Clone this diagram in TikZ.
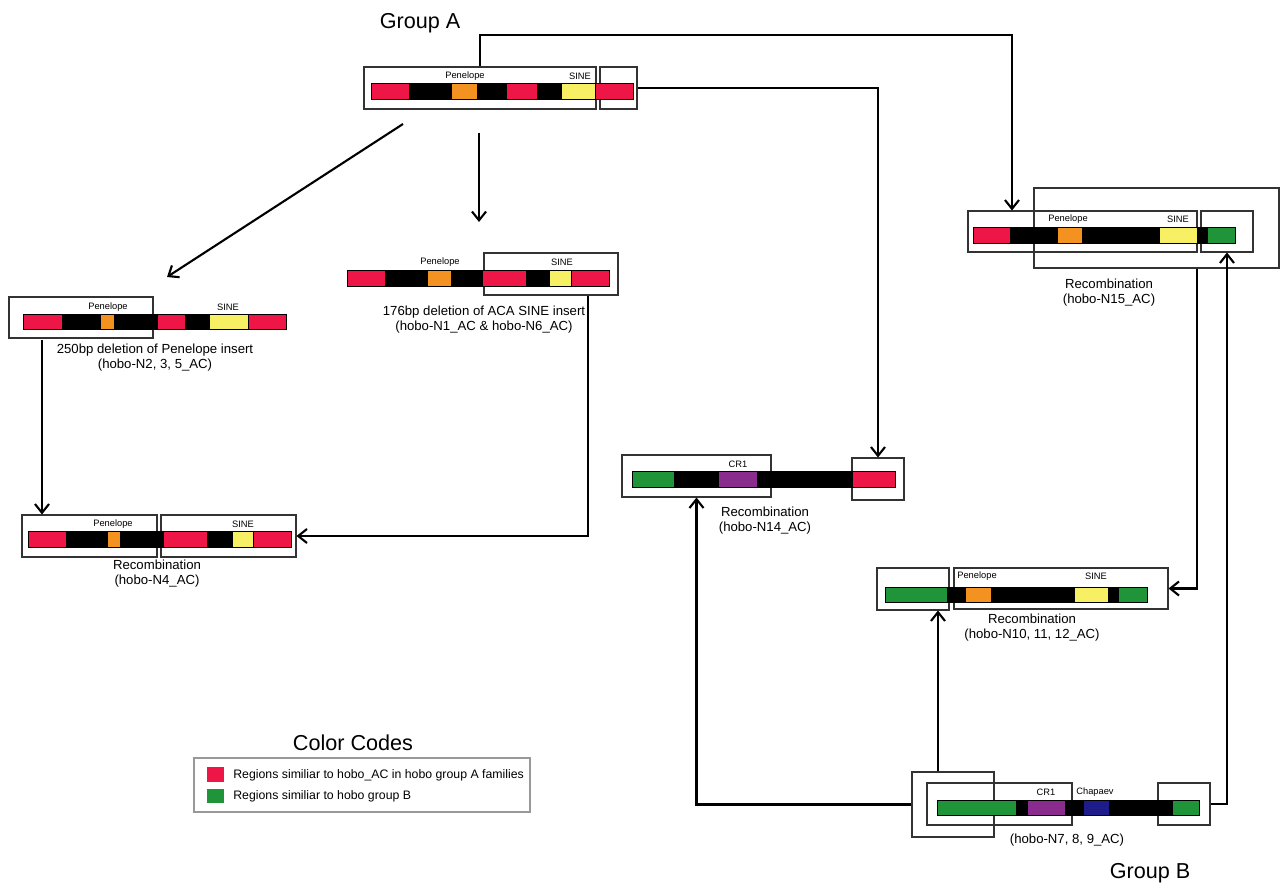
\documentclass[tikz,border=0pt]{standalone}
\usepackage{fontspec}
\setmainfont{Liberation Sans}
\usepackage{tikz}
\usetikzlibrary{fit}
\usetikzlibrary{arrows.meta}

\definecolor{hobored}{HTML}{EE1547}
\definecolor{hoboorange}{HTML}{F39221}
\definecolor{hoboyellow}{HTML}{F7F064}
\definecolor{hobogreen}{HTML}{1F9438}
\definecolor{hobopurple}{HTML}{8A2B8E}
\definecolor{hoboblue}{HTML}{1E1B8A}

\begin{document}
\begin{tikzpicture}[x=0.02cm, y=-0.02cm,
		frame/.style={draw=black!80, line width=0.6pt, inner sep=0pt},
		link/.style={line width=1.2pt, -{Straight Barb[length=5pt, width=8pt]}},
		tag/.style={font=\fontsize{5.3}{6}\selectfont, inner sep=0pt},
		caption/.style={font=\fontsize{7.5}{8.6}\selectfont, align=center, inner sep=0pt},
		title/.style={font=\fontsize{12.3}{14}\selectfont, inner sep=0pt}]
			\useasboundingbox (0,0) rectangle (1280,885);

			% frames
			\node[frame, fit={(364,67) (596,109)}] (groupA) {};
			\node[frame, fit={(600,67) (637,109)}] (groupAend) {};
			\node[frame, fit={(9,297) (153,338)}] (n2box) {};
			\node[frame, fit={(484,253) (618,295)}] (n1box) {};
			\node[frame, fit={(22,515) (157,557)}] (n4left) {};
			\node[frame, fit={(161,515) (296,557)}] (n4right) {};
			\node[frame, fit={(622,455) (771,497)}] (n14left) {};
			\node[frame, fit={(852,458) (904,500)}] (n14right) {};
			\node[frame, fit={(1034,188) (1279,268)}] (n15big) {};
			\node[frame, fit={(968,211) (1197,252)}] (n15left) {};
			\node[frame, fit={(1201,211) (1253,252)}] (n15right) {};
			\node[frame, fit={(877,568) (949,610)}] (n10left) {};
			\node[frame, fit={(954,568) (1168,609)}] (n10right) {};
			\node[frame, fit={(912,772) (994,837)}] (n7outer) {};
			\node[frame, fit={(927,783) (1072,825)}] (n7mid) {};
			\node[frame, fit={(1158,783) (1210,825)}] (n7right) {};

			% bars
			\begin{scope}[line width=0.5pt, draw=black]
				\filldraw[fill=black] (371,83) rectangle (633,99);
				\filldraw[fill=hobored] (371,83) rectangle (409,99);
				\filldraw[fill=hoboorange] (451,83) rectangle (477,99);
				\filldraw[fill=hobored] (506,83) rectangle (537,99);
				\filldraw[fill=hoboyellow] (561,83) rectangle (595,99);
				\filldraw[fill=hobored] (595,83) rectangle (633,99);

				\filldraw[fill=black] (23,314) rectangle (286,329);
				\filldraw[fill=hobored] (23,314) rectangle (62,329);
				\filldraw[fill=hoboorange] (100,314) rectangle (114,329);
				\filldraw[fill=hobored] (157,314) rectangle (185,329);
				\filldraw[fill=hoboyellow] (209,314) rectangle (248,329);
				\filldraw[fill=hobored] (248,314) rectangle (286,329);

				\filldraw[fill=black] (347,270) rectangle (609,286);
				\filldraw[fill=hobored] (347,270) rectangle (385,286);
				\filldraw[fill=hoboorange] (427,270) rectangle (451,286);
				\filldraw[fill=hobored] (482,270) rectangle (526,286);
				\filldraw[fill=hoboyellow] (549,270) rectangle (571,286);
				\filldraw[fill=hobored] (571,270) rectangle (609,286);

				\filldraw[fill=black] (28,531) rectangle (291,547);
				\filldraw[fill=hobored] (28,531) rectangle (66,547);
				\filldraw[fill=hoboorange] (107,531) rectangle (120,547);
				\filldraw[fill=hobored] (163,531) rectangle (207,547);
				\filldraw[fill=hoboyellow] (232,531) rectangle (253,547);
				\filldraw[fill=hobored] (253,531) rectangle (291,547);

				\filldraw[fill=black] (632,471) rectangle (895,487);
				\filldraw[fill=hobogreen] (632,471) rectangle (674,487);
				\filldraw[fill=hobopurple] (718,471) rectangle (757,487);
				\filldraw[fill=hobored] (852,471) rectangle (895,487);

				\filldraw[fill=black] (973,227) rectangle (1235,243);
				\filldraw[fill=hobored] (973,227) rectangle (1010,243);
				\filldraw[fill=hoboorange] (1057,227) rectangle (1082,243);
				\filldraw[fill=hoboyellow] (1159,227) rectangle (1197,243);
				\filldraw[fill=hobogreen] (1207,227) rectangle (1235,243);

				\filldraw[fill=black] (885,587) rectangle (1147,602);
				\filldraw[fill=hobogreen] (885,587) rectangle (947,602);
				\filldraw[fill=hoboorange] (965,587) rectangle (991,602);
				\filldraw[fill=hoboyellow] (1074,587) rectangle (1108,602);
				\filldraw[fill=hobogreen] (1118,587) rectangle (1147,602);

				\filldraw[fill=black] (937,800) rectangle (1199,815);
				\filldraw[fill=hobogreen] (937,800) rectangle (1016,815);
				\filldraw[fill=hobopurple] (1027,800) rectangle (1065,815);
				\filldraw[fill=hoboblue] (1083,800) rectangle (1109,815);
				\filldraw[fill=hobogreen] (1172,800) rectangle (1199,815);
			\end{scope}

			% element tags
			\node[tag] (penA) at (465,76) {Penelope};
			\node[tag] (sineA) at (580,76) {SINE};
			\node[tag] (penN2) at (108,307) {Penelope};
			\node[tag] (sineN2) at (228,307) {SINE};
			\node[tag] (penN1) at (440,262) {Penelope};
			\node[tag] (sineN1) at (562,262) {SINE};
			\node[tag] (penN4) at (113,524) {Penelope};
			\node[tag] (sineN4) at (243,524) {SINE};
			\node[tag] (crN14) at (738,464) {CR1};
			\node[tag] (penN15) at (1068,219) {Penelope};
			\node[tag] (sineN15) at (1178,219) {SINE};
			\node[tag] (penN10) at (977,576) {Penelope};
			\node[tag] (sineN10) at (1096,576) {SINE};
			\node[tag] (crN7) at (1046,792) {CR1};
			\node[tag] (chapN7) at (1095,792) {Chapaev};

			% captions
			\node[caption] (capN2) at (155,358) {250bp deletion of Penelope insert\\(hobo-N2, 3, 5\_AC)};
			\node[caption] (capN1) at (484,320) {176bp deletion of ACA SINE insert\\(hobo-N1\_AC \& hobo-N6\_AC)};
			\node[caption] (capN4) at (157,574) {Recombination\\(hobo-N4\_AC)};
			\node[caption] (capN14) at (765,521) {Recombination\\(hobo-N14\_AC)};
			\node[caption] (capN15) at (1109,293) {Recombination\\(hobo-N15\_AC)};
			\node[caption] (capN10) at (1032,628) {Recombination\\(hobo-N10, 11, 12\_AC)};
			\node[caption] (capN7) at (1067,840) {(hobo-N7, 8, 9\_AC)};

			\node[title] (titleA) at (420,23) {Group A};
			\node[title] (titleB) at (1150,873) {Group B};
			\node[title] (titleKey) at (353,743) {Color Codes};

			% legend
			\node[draw=black!40, line width=0.6pt, inner sep=0pt, fit={(194,758) (530,812)}] (key) {};
			\fill[hobored] (207,767) rectangle (224,782);
			\fill[hobogreen] (207,789) rectangle (224,803);
			\node[font=\fontsize{7}{8}\selectfont, anchor=west, inner sep=0pt] (keyA) at (233,775) {Regions similiar to hobo\_AC in hobo group A families};
			\node[font=\fontsize{7}{8}\selectfont, anchor=west, inner sep=0pt] (keyB) at (233,796) {Regions similiar to hobo group B};

			% connectors
			\coordinate (turnA) at (1012,35);
			\coordinate (diagS) at (403,124);
			\coordinate (diagE) at (167,277);
			\coordinate (downS) at (479,133);
			\coordinate (downE) at (479,222);
			\coordinate (n2drop) at (42,340);
			\coordinate (n1drop) at (588,0);
			\coordinate (n15drop) at (1197,0);
			\coordinate (n7rise) at (938,0);
			\draw[link] (groupA.north) |- (turnA) -- (turnA |- n15left.north);
			\draw[link] (groupAend.east) -| (n14right.north);
			\draw[link] (diagS) -- (diagE);
			\draw[link] (downS) -- (downE);
			\draw[link] (n2drop) -- (n2drop |- n4left.north);
			\draw[link] (n1drop |- n1box.south) |- (n4right.east);
			\draw[link] (n15drop |- n15big.south) |- (n10right.east);
			\draw[link] (n7right.east) -| (n15right.south);
			\draw[link] (n7outer.west) -| (n14left.south);
			\draw[link] (n7rise |- n7outer.north) -- (n7rise |- n10left.south);
		\end{tikzpicture}
\end{document}
